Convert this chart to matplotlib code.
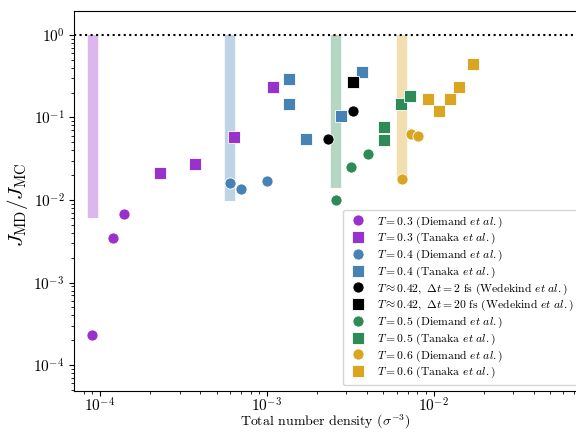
import numpy as np
import matplotlib
matplotlib.use('Agg')
import matplotlib.pyplot as plt

plt.rcParams['font.family'] = 'cmr10'
plt.rcParams['mathtext.fontset'] = 'cm'
plt.rcParams['axes.formatter.use_mathtext'] = True

# Datos
# T = 0.3
d03_x = [9.0e-5, 1.20e-4, 1.40e-4]
d03_y = [2.33e-4, 3.49e-3, 6.7e-3]
t03_x = [2.29e-4, 3.71e-4, 6.4e-4, 1.087e-3]
t03_y = [0.021, 0.0273, 0.0575, 0.236]
# T = 0.4
d04_x = [6.0e-4, 7.0e-4, 1.0e-3]
d04_y = [0.0159, 0.0135, 0.017]
t04_x = [1.35e-3, 1.35e-3, 1.71e-3, 2.79e-3, 3.72e-3]
t04_y = [0.29, 0.145, 0.0549, 0.104, 0.353]
# T ~ 0.42 (Wedekind)
w2_x = [2.32e-3, 3.31e-3]
w2_y = [0.0544, 0.12]
w20_x = [3.31e-3]
w20_y = [0.272]
# T = 0.5
d05_x = [2.61e-3, 3.22e-3, 4.02e-3]
d05_y = [0.0099, 0.0254, 0.0358]
t05_x = [5.04e-3, 5.04e-3, 6.41e-3, 7.26e-3]
t05_y = [0.076, 0.0533, 0.145, 0.184]
# T = 0.6
d06_x = [6.5e-3, 7.31e-3, 8.05e-3]
d06_y = [0.0178, 0.0637, 0.059]
t06_x = [9.3e-3, 1.08e-2, 1.26e-2, 1.42e-2, 1.72e-2]
t06_y = [0.168, 0.119, 0.169, 0.236, 0.445]

# Bandas verticales (densidad, limite inferior)
banda_x = [9.04e-5, 6.0e-4, 2.61e-3, 6.5e-3]
banda_min = [0.006, 0.0097, 0.0139, 0.018]

morado = '#9932CC'
azul = '#4682B4'
verde = '#2E8B57'
naranja = '#DAA520'
colores_banda = [morado, azul, verde, naranja]

fig = plt.figure(figsize=(5.76, 4.33), dpi=100)
ax = fig.add_axes([0.129, 0.0977, 0.8724, 0.8769])

for xb, yb, c in zip(banda_x, banda_min, colores_banda):
    ax.vlines(xb, yb, 1.0, colors=c, lw=7.5, alpha=0.35, zorder=1)

ax.axhline(1.0, color='k', ls=':', lw=1.5, zorder=1)

ms = 8
kw = dict(ls='none', ms=ms, mec='white', mew=0.6, zorder=3)
ax.plot(d03_x, d03_y, 'o', color=morado, label=r'$T=0.3$ (Diemand $\mathit{et\ al.}$)', **kw)
ax.plot(t03_x, t03_y, 's', color=morado, label=r'$T=0.3$ (Tanaka $\mathit{et\ al.}$)', **kw)
ax.plot(d04_x, d04_y, 'o', color=azul, label=r'$T=0.4$ (Diemand $\mathit{et\ al.}$)', **kw)
ax.plot(t04_x, t04_y, 's', color=azul, label=r'$T=0.4$ (Tanaka $\mathit{et\ al.}$)', **kw)
ax.plot(w2_x, w2_y, 'o', color='k',
        label=r'$T\approx0.42,\ \Delta t=2$ fs (Wedekind $\mathit{et\ al.}$)', **kw)
ax.plot(w20_x, w20_y, 's', color='k',
        label=r'$T\approx0.42,\ \Delta t=20$ fs (Wedekind $\mathit{et\ al.}$)', **kw)
ax.plot(d05_x, d05_y, 'o', color=verde, label=r'$T=0.5$ (Diemand $\mathit{et\ al.}$)', **kw)
ax.plot(t05_x, t05_y, 's', color=verde, label=r'$T=0.5$ (Tanaka $\mathit{et\ al.}$)', **kw)
ax.plot(d06_x, d06_y, 'o', color=naranja, label=r'$T=0.6$ (Diemand $\mathit{et\ al.}$)', **kw)
ax.plot(t06_x, t06_y, 's', color=naranja, label=r'$T=0.6$ (Tanaka $\mathit{et\ al.}$)', **kw)

ax.set_xscale('log')
ax.set_yscale('log')
ax.set_xlim(10**-4.154, 10**-1.141)
ax.set_ylim(10**-4.31, 10**0.29)

ax.set_xlabel(r'Total number density ($\sigma^{-3}$)', fontsize=10, labelpad=-1)
ax.set_ylabel(r'$J_{\rm MD}/J_{\rm MC}$', fontsize=15)
ax.yaxis.set_label_coords(-0.088, 0.49)
ax.tick_params(labelsize=11)
ax.tick_params(axis='x', pad=0.3)

ax.legend(loc='lower left', bbox_to_anchor=(342.7 / 576, 1 - 385 / 433),
          bbox_transform=fig.transFigure, borderaxespad=0, fontsize=8.4,
          handlelength=1.8, handletextpad=0.7, labelspacing=0.12)

plt.savefig('out.png', dpi=100)
